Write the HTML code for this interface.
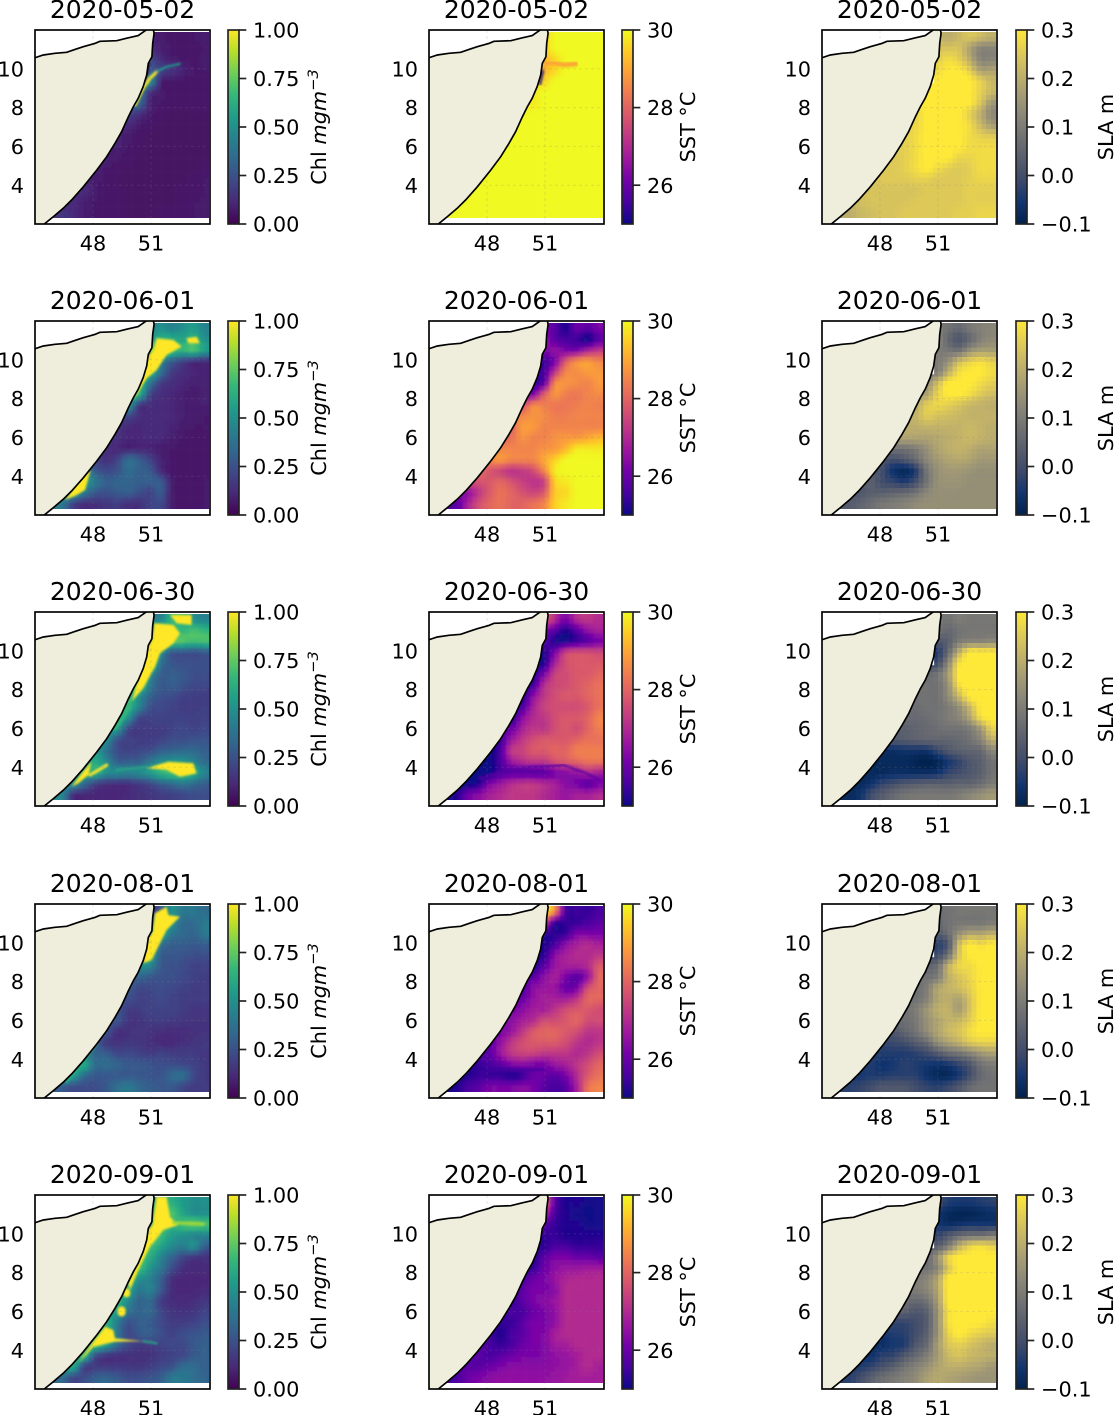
<!DOCTYPE html>
<html lang="en">
<head>
<meta charset="utf-8">
<title>Chl, SST and SLA panels</title>
<style>
html,body{margin:0;padding:0;background:#fff;width:1114px;height:1415px;overflow:hidden}
svg{display:block}
text{font-family:"DejaVu Sans","Liberation Sans",sans-serif;fill:#000}
</style>
</head>
<body>
<svg id="figure" xmlns="http://www.w3.org/2000/svg" width="1114" height="1415" viewBox="0 0 1114 1415">
<defs>
<clipPath id="heat-clip"><rect x="0" y="2" width="174" height="186"/></clipPath>
<clipPath id="axes-clip"><rect x="0" y="0" width="175" height="194"/></clipPath>
<filter id="soft" x="-5%" y="-5%" width="110%" height="110%"><feGaussianBlur stdDeviation="1.4"/></filter>
<filter id="edge" x="-5%" y="-5%" width="110%" height="110%"><feGaussianBlur stdDeviation="1.1"/></filter>
</defs>
</svg>
<script>
const dates = ['2020-05-02','2020-06-01','2020-06-30','2020-08-01','2020-09-01'];
const lonTicks = [48,51];
const latTicks = [4,6,8,10];
const chlTickValues = [0,25,50,75,100];
const chlTickLabels = ['0.00','0.25','0.50','0.75','1.00'];
const sstTickValues = [260,280,300];
const sstTickLabels = ['26','28','30'];
const slaTickValues = [-10,0,10,20,30];
const slaTickLabels = ['\u22120.1','0.0','0.1','0.2','0.3'];

const coastNorthLon = [45,45.43,46.03,46.64,47.07,47.5,48.1,48.36,49.23,49.83,50.34,50.69,50.81];
const coastNorthLat = [10.57,10.71,10.8,10.85,11,11.14,11.31,11.42,11.45,11.6,11.71,11.96,12.04];
const coastEastLon = [51.12,51.16,51.09,51.05,50.86,50.78,50.6,50.34,50.09,49.83,49.48,49.14,48.71,48.19,47.5,46.9,46.46,45.95,45.48];
const coastEastLat = [12.04,11.83,11.31,10.62,10.28,9.68,9.08,8.48,8.05,7.53,6.76,6.16,5.47,4.78,3.92,3.24,2.81,2.38,2.0];

/* Rows run north to south; each row is right-aligned to the eastern edge (land cells omitted). Chl x100, SST x10, SLA x100 */
const chl0502 = [
[10,8,6,6,7,8],[12,9,7,6,6,7],[22,12,8,7,6,8],[30,20,15,10,7,7],[50,10,7,6,6,6],
[40,15,8,6,6,6,6],[35,10,7,6,6,6,6],[20,14,8,6,5,5,5,5],[12,8,6,5,5,5,5,5],
[10,8,6,5,5,5,5,5,5],[9,7,6,5,5,5,5,5,5],[9,7,6,5,5,5,5,5,5,5],[9,7,6,5,5,5,5,5,5,5,6],
[10,8,6,5,5,5,5,5,5,5,6,7],[12,8,6,6,5,5,5,5,5,6,6,7],[12,9,7,6,6,5,5,5,5,5,6,7,7],
[15,12,9,7,6,6,5,5,5,6,6,6,7,7]];
const chl0601 = [
[45,50,45,50,55,45],[55,65,62,58,65,50],[85,85,70,65,70,55],[70,45,30,20,14,13],[65,38,18,14,11,10],
[65,40,18,14,11,9,9],[65,22,14,11,9,8,9],[55,18,14,12,11,9,8,9],[22,14,12,12,11,9,8,7],
[15,12,11,12,12,10,8,7,7],[14,11,11,12,11,9,7,6,6],[14,11,10,11,10,8,7,6,6,6],[20,14,20,35,30,20,10,7,6,6,6],
[45,28,22,25,35,30,28,12,7,6,6,6],[55,40,30,32,32,30,30,28,8,6,6,7],[55,40,28,25,28,30,25,20,28,8,6,6,7],
[40,20,14,14,16,18,14,14,20,22,8,6,6,7]];
const chl0630 = [
[45,45,65,65,50,45],[60,80,70,65,70,65],[85,85,75,72,68,70],[85,50,28,27,25,28],[80,38,27,25,25,25],
[80,50,30,30,28,24,24],[75,42,28,30,26,22,22],[70,50,32,25,24,20,19,18],[65,45,25,22,20,18,18,19],
[65,50,22,20,20,20,20,19,20],[55,22,18,18,18,20,22,20,22],[50,25,20,18,18,20,24,24,26,26],[55,38,24,20,22,24,30,32,34,34,30],
[55,60,48,30,30,30,40,48,52,52,45,35],[55,65,50,48,45,48,55,65,70,70,62,45],[50,35,20,15,14,14,18,22,30,35,40,35,30],
[45,14,12,11,11,11,12,14,16,18,20,22,24,24]];
const chl0801 = [
[15,30,50,40,40,35],[50,65,50,35,35,40],[60,60,40,35,32,40],[60,38,30,30,28,30],[60,30,28,26,24,24],
[50,45,28,25,24,20,20],[32,28,25,25,22,20,18],[28,22,22,24,22,20,18,18],[24,20,20,22,20,18,18,18],
[26,18,18,20,20,20,18,16,16],[26,16,15,18,18,17,16,15,15],[26,14,14,16,15,13,13,13,14,15],[28,17,15,16,16,14,12,12,14,15,17],
[40,32,30,22,22,20,18,20,18,18,18,16],[60,35,35,32,28,28,26,24,24,22,20,17],[55,35,28,28,28,28,28,26,26,34,36,22,17],
[30,24,24,24,28,36,40,34,30,28,28,22,18,18]];
const chl0901 = [
[60,70,62,55,50,50],[70,75,72,58,50,50],[70,75,65,70,75,70],[80,68,55,50,45,45],[70,58,48,42,50,30],
[70,62,45,32,22,16,15],[70,52,40,24,14,12,12],[65,50,44,30,14,11,11,11],[60,40,44,28,13,11,11,12],
[65,48,32,34,18,13,12,13,16],[55,38,32,34,22,16,15,16,20],[65,42,25,30,28,22,18,18,20,24],[70,60,40,22,28,30,24,20,24,26,28],
[70,70,55,35,22,18,18,20,22,22,28,30],[65,25,16,14,14,14,15,18,20,22,28,30],[60,20,18,17,17,16,16,18,22,25,35,35,30],
[35,22,24,30,32,28,24,24,26,30,40,40,36,32]];

const sst0502 = [
[295,300,300,300,300,300],[295,300,300,300,300,300],[292,296,300,300,300,300],[292,296,300,300,300,300],[296,300,300,300,300,300],
[298,300,300,300,300,300,300],[298,300,300,300,300,300,300],[300,300,300,300,300,300,300,300],[300,300,300,300,300,300,300,300],
[300,300,300,300,300,300,300,300,300],[300,300,300,300,300,300,300,300,300],[300,300,300,300,300,300,300,300,300,300],[300,300,300,300,300,300,300,300,300,300,300],
[300,300,300,300,300,300,300,300,300,300,300,300],[300,300,300,300,300,300,300,300,300,300,300,300],[300,300,300,300,300,300,300,300,300,300,300,300,300],
[300,300,300,300,300,300,300,300,300,300,300,300,300,300]];
const sst0601 = [
[262,258,252,260,258,262],[265,258,256,255,251,258],[262,265,262,262,268,272],[255,262,278,286,288,285],[256,272,285,286,288,288],
[255,258,285,287,286,285,288],[262,278,287,284,283,285,286],[275,285,284,283,283,284,285,284],[285,287,286,284,284,285,285,285],
[280,288,288,285,285,285,285,285,285],[282,287,285,285,287,288,288,290,292],[285,285,285,285,287,288,292,298,298,298],[285,288,285,285,285,290,295,300,300,300,300],
[282,278,275,272,273,276,285,298,300,300,300,300],[277,278,280,277,274,272,274,295,298,300,300,300],[265,272,278,282,280,277,275,278,294,296,300,300,300],
[258,268,276,280,282,280,280,282,285,295,298,300,300,300]];
const sst0630 = [
[280,270,262,270,272,270],[262,258,252,258,265,268],[258,252,252,255,258,262],[252,262,274,276,276,275],[252,268,276,278,278,278],
[252,262,274,276,278,278,280],[255,270,275,276,278,280,282],[252,264,272,276,278,278,280,282],[256,268,274,276,276,276,278,282],
[252,264,270,272,276,278,278,280,285],[260,268,272,272,276,278,276,280,284],[255,266,272,276,278,278,278,280,282,282],[250,256,272,274,278,278,280,280,284,284,284],
[250,250,256,266,270,272,272,276,278,280,282,282],[250,250,256,258,258,258,258,262,264,266,270,268],[250,252,262,266,270,272,272,270,268,264,262,258,262],
[252,260,264,268,270,272,272,272,270,268,266,268,268,270]];
const sst0801 = [
[300,285,256,255,254,256],[275,255,254,254,256,258],[254,253,254,262,262,262],[252,256,264,268,270,268],[253,264,268,270,270,272],
[252,258,266,268,268,270,278],[258,264,268,262,258,265,280],[256,264,266,266,260,262,276,280],[260,265,268,268,268,272,280,280],
[262,264,268,268,272,276,278,278,276],[264,268,270,276,276,278,280,276,276],[262,266,272,278,280,280,278,276,272,272],[258,265,272,276,278,278,278,276,272,270,272],
[258,258,266,272,274,274,272,272,272,270,272,276],[254,256,258,262,264,262,262,266,268,272,276,280],[252,254,254,254,252,254,260,260,258,262,270,278,282],
[252,256,258,262,262,262,264,262,258,256,258,268,282,285]];
const sst0901 = [
[282,258,252,252,251,251],[270,256,252,251,250,251],[258,254,252,252,251,251],[254,254,252,252,252,252],[253,256,256,254,254,254],
[252,258,262,262,260,260,258],[254,260,264,266,266,267,267],[256,260,262,266,269,270,270,270],[258,262,262,264,270,270,270,270],
[254,258,262,264,266,270,270,270,270],[256,256,260,262,265,270,270,270,270],[254,254,258,262,262,265,270,270,270,270],[255,252,256,258,262,263,268,270,270,270,270],
[258,256,254,256,260,262,263,267,268,270,270,270],[258,256,258,260,262,262,263,265,266,268,270,270],[258,258,260,262,264,264,264,264,265,266,268,270,268],
[256,260,262,264,265,265,265,265,265,266,267,268,268,268]];

const sla0502 = [
[22,20,22,24,22,20],[24,24,24,18,12,12],[26,28,26,20,12,12],[28,30,30,26,18,18],[30,30,30,30,26,22],
[30,30,30,30,30,26,22],[30,30,30,30,30,24,16],[27,30,30,30,30,26,20,13],[27,30,30,30,30,28,22,17],
[26,28,30,30,30,30,28,26,25],[26,28,30,30,30,30,28,28,28],[25,26,28,30,30,30,27,27,28,28],[25,25,26,28,30,28,26,25,26,28,28],
[24,25,25,25,26,26,25,25,25,26,27,27],[24,24,24,24,24,25,25,25,25,26,26,26],[23,24,24,24,24,25,25,25,25,25,26,26,26],
[20,22,23,24,24,25,25,25,25,25,26,26,27,27]];
const sla0601 = [
[10,8,6,9,11,12],[12,6,2,6,11,13],[10,9,8,14,17,17],[10,14,22,26,28,26],[11,20,28,30,30,28],
[14,22,30,30,30,28,26],[18,26,30,30,28,25,23],[19,25,27,26,24,22,21,20],[21,25,24,23,22,21,21,21],
[20,20,21,21,21,21,22,21,20],[18,18,18,19,20,21,22,21,20],[8,8,10,14,18,20,21,20,18,18],[2,0,2,6,12,16,18,19,18,16,16],
[3,0,-6,-8,-4,8,14,16,16,15,14,14],[4,0,-2,-4,0,8,14,15,15,14,14,14],[2,4,4,5,6,8,12,14,14,14,14,14,14],
[3,5,7,9,10,11,13,14,14,14,14,14,14,14]];
const sla0630 = [
[10,8,10,9,9,9],[8,6,8,9,9,9],[2,4,10,12,12,13],[-4,6,20,30,30,30],[0,12,28,30,30,30],
[6,8,16,30,30,30,30],[8,8,14,28,30,30,30],[8,8,8,13,22,30,30,30],[7,8,8,10,14,22,30,30],
[7,6,7,8,10,12,18,28,30],[4,5,6,7,8,8,10,16,26],[2,3,4,5,5,5,6,8,12,20],[-7,-7,-6,-6,-6,-2,2,4,5,6,12],
[-8,-8,-8,-8,-9,-10,-9,-5,-2,2,4,8],[-8,-8,-7,-7,-7,-7,-6,-2,0,2,4,8],[-8,-6,-2,0,2,3,4,4,4,5,5,7,10],
[-8,-6,0,3,6,8,9,9,9,9,10,12,14,16]];
const sla0801 = [
[7,8,9,9,9,9],[6,8,9,9,9,10],[3,7,14,18,18,20],[-3,2,22,30,28,30],[0,8,24,30,30,30],
[5,7,20,27,28,30,30],[8,10,20,24,27,30,30],[7,10,18,21,23,26,30,30],[8,11,18,20,18,24,30,30],
[8,10,15,20,21,17,24,30,30],[7,9,14,18,21,22,26,30,30],[2,5,8,13,18,22,24,28,30,30],[-2,-1,0,3,6,13,17,20,24,26,26],
[-3,-4,-4,-4,-3,-1,2,6,8,11,15,17],[-4,-6,-5,-3,-4,-5,-6,-5,-2,2,8,10],[-5,-4,-4,-3,-3,-3,-6,-8,-8,-5,0,6,8],
[-3,-2,0,2,2,2,0,-2,-3,-1,2,6,8,8]];
const sla0901 = [
[0,-4,-5,-5,-4,-3],[-6,-8,-9,-9,-8,-7],[-5,-7,-6,-5,-5,-5],[-2,2,6,8,8,10],[4,10,20,26,28,26],
[6,14,26,30,30,30,30],[8,12,24,30,30,30,30],[10,12,18,30,30,30,30,30],[10,12,18,30,30,30,30,30],
[8,6,8,16,30,30,30,30,30],[4,2,4,14,28,30,30,30,30],[-2,-2,0,3,14,28,30,30,30,28],[-5,-4,-3,0,4,14,26,30,28,26,25],
[-7,-7,-5,-4,2,6,16,24,26,24,22,20],[-6,-3,-2,2,6,10,16,22,24,22,21,20],[-4,-2,1,4,8,11,14,18,20,20,19,18,16],
[-3,0,4,7,9,11,13,17,19,18,17,16,15,15]];

/* Sharp features: [value, stroke width, lons, lats, filled patch?] */
const coastStrip = [0,2,[50.9,50.82,50.72],[10.3,9.8,9.2]];
const chlFronts0502 = [coastStrip,
  [100,3,[50.17,50.6,50.95,51.3],[8.13,9,9.51,9.85]],
  [55,2,[51.3,51.81,52.5],[9.85,10.11,10.25]]];
const chlFronts0601 = [coastStrip,
  [100,0,[51.16,51.29,52.16,52.59,51.81,51.29,50.78,50.09,50.43,50.86],[10.51,11.11,11.02,10.68,10.25,9.47,9.04,7.93,8.96,10.16],true],
  [100,0,[52.84,53.36,53.53,52.93],[11.11,11.19,10.85,10.85],true],
  [100,0,[46.55,47.16,47.59,47.88,47.5],[2.77,3.03,3.29,4.32,4.06],true]];
const chlFronts0630 = [coastStrip,
  [100,0,[51.16,52.16,52.5,52.16,51.47,51.21,50.6,50,50.43,50.86,51.09],[11.42,11.33,10.9,10.38,9.87,9.18,8.07,7.38,8.84,10.21,10.56],true],
  [100,0,[51.98,53.1,53.1,52.33],[11.85,11.85,11.33,11.42],true],
  [100,0,[50.78,51.47,51.9,53.19,53.36,52.5,51.81],[3.94,4.16,4.28,4.2,3.68,3.51,3.86],true],
  [100,0,[46.9,47.41,47.93,47.76,47.24],[3,3.68,4.28,3.6,3.17],true],
  [65,6,[49.83,49.14],[7.12,6.09]],
  [100,3,[47.85,48.71],[3.6,4.11]],
  [60,2,[49.22,50.78],[3.86,4]]];
const chlFronts0801 = [[0,3,[50.9,50.82,50.6],[10.3,9.8,9.1]],
  [100,0,[51.21,51.81,51.9,52.5,51.81,51.29,51.03,50.6,50.86,51.09],[11.52,11.86,11.43,11.35,10.66,9.63,9.11,8.94,10.23,10.57],true],
  [60,3,[46.64,48.19],[2.84,4.82]]];
const chlFronts0901 = [coastStrip,
  [100,0,[51.29,51.81,51.98,52.4,51.64,50.95,50.43,49.91,49.83,50.6,50.86,51.09],[11.91,11.91,10.88,10.45,10.2,9.34,8.31,7.1,7.45,9.16,10.2,10.45],true],
  [100,0,[47.24,47.84,48.62,49.05,49.14,50.6,49.14,48.02],[3.32,4.18,5.21,5.04,4.61,4.47,4.44,4.18],true],
  [85,3,[52.16,53.71],[10.57,10.5]],
  [100,7,[49.74,49.74],[7,6.9]],
  [100,8,[49.48,49.48],[6.05,5.95]],
  [60,2,[50.6,51.29],[4.47,4.35]]];
const sstFronts0502 = [[290,5,[51.05,51.5,52,52.6],[10.3,10.3,10.2,10.25]],[250,2,[50.9,50.75],[9.9,9.2]]];
const sstFronts0630 = [[258,2,[47.6,48.95,50.33,51.09,51.95,53.15,53.84],[3.4,3.83,4,4.03,4.11,3.68,3.34]]];
const sstFronts0801 = [[255,2,[47.64,48.67,50.05,50.91],[3.27,3.53,3.44,3.48]]];

const viridisStops = ['#440154','#482878','#3e4989','#31688e','#26828e','#1f9e89','#35b779','#6ece58','#b5de2b','#fde725'];
const plasmaStops = ['#0d0887','#46039f','#7201a8','#9c179e','#bd3786','#d8576b','#ed7953','#fb9f3a','#fdca26','#f0f921'];
const cividisStops = ['#00224e','#123570','#3b496c','#575d6d','#707173','#8a8678','#a59c74','#c3b369','#e1cc55','#fee838'];

const rowTops = [30,321,612,904,1195];
const NS = 'http://www.w3.org/2000/svg';
const svg = document.getElementById('figure');
const tickFont = 20.83, titleFont = 25, lineW = 1.67;

function mk(tag, attrs, parent, txt) {
  const el = document.createElementNS(NS, tag);
  for (const k in attrs) el.setAttribute(k, attrs[k]);
  if (txt !== undefined) el.textContent = txt;
  parent.appendChild(el);
  return el;
}
function xScale(lon) { return (lon - 45) * 19.33; }
function yScale(lat) { return (12 - lat) * 19.4; }
function hexToRgb(h) { return [1,3,5].map(i => parseInt(h.substr(i,2),16)); }
function colorAt(stops, t) {
  t = Math.max(0, Math.min(1, t));
  const p = t * (stops.length - 1), i = Math.min(stops.length - 2, Math.floor(p)), f = p - i;
  const a = hexToRgb(stops[i]), b = hexToRgb(stops[i+1]);
  return 'rgb(' + a.map((v,k) => Math.round(v + (b[k]-v)*f)).join(',') + ')';
}
function cellValue(rows, r, c) {
  const row = rows[Math.max(0, Math.min(rows.length - 1, r))];
  const start = 16 - row.length;
  return row[Math.max(start, Math.min(15, c)) - start];
}
function cubic(a, b, c, d, t) {
  return b + 0.5*t*(c-a + t*(2*a-5*b+4*c-d + t*(3*(b-c)+d-a)));
}
function smoothValue(rows, u, v) {
  const c0 = Math.floor(u), r0 = Math.floor(v), tu = u - c0, tv = v - r0, col = [];
  for (let r = -1; r <= 2; r++) {
    col.push(cubic(cellValue(rows,r0+r,c0-1), cellValue(rows,r0+r,c0), cellValue(rows,r0+r,c0+1), cellValue(rows,r0+r,c0+2), tu));
  }
  return cubic(col[0], col[1], col[2], col[3], tv);
}

const columns = [
  {key:'chl', x:35, cbx:228, lo:0, hi:100, stops:viridisStops, soft:true,
   series:[chl0502,chl0601,chl0630,chl0801,chl0901],
   fronts:[chlFronts0502,chlFronts0601,chlFronts0630,chlFronts0801,chlFronts0901],
   tickValues:chlTickValues, tickLabels:chlTickLabels},
  {key:'sst', x:429, cbx:622, lo:250, hi:300, stops:plasmaStops, soft:true,
   series:[sst0502,sst0601,sst0630,sst0801,sst0901],
   fronts:[sstFronts0502,[],sstFronts0630,sstFronts0801,[]],
   tickValues:sstTickValues, tickLabels:sstTickLabels},
  {key:'sla', x:822, cbx:1016, lo:-10, hi:30, stops:cividisStops, soft:false,
   series:[sla0502,sla0601,sla0630,sla0801,sla0901],
   fronts:[[],[],[],[],[]],
   tickValues:slaTickValues, tickLabels:slaTickLabels}
];

const defs = svg.querySelector('defs');
columns.forEach(col => {
  const grad = mk('linearGradient', {id:'grad-'+col.key, x1:0, y1:1, x2:0, y2:0}, defs);
  col.stops.forEach((s,i) => mk('stop', {offset:i/(col.stops.length-1), 'stop-color':s}, grad));
});

const cellW = 175/16, cellH = 186/17, fineW = 4.83, fineH = 4.85;

rowTops.forEach((top, rowIdx) => {
  columns.forEach(col => {
    const panel = mk('g', {transform:'translate('+col.x+','+top+')'}, svg);
    
    

    const clip = mk('g', {'clip-path':'url(#heat-clip)'}, panel);
    
    
    const cells = mk('g', col.soft ? {filter:'url(#soft)'} : {'shape-rendering':'crispEdges'}, clip);
    const rows = col.series[rowIdx];
    const t = v => (v - col.lo) / (col.hi - col.lo);

    for (let j = -2; j < 41; j++) {
      for (let i = -2; i < 39; i++) {
        const x = i*fineW, y = 2 + j*fineH;
        const u = (x + fineW/2)/cellW - 0.5, v = (y + fineH/2 - 2)/cellH - 0.5;
        const rr = Math.max(0, Math.min(rows.length-1, Math.round(v)));
        if (u < 16 - rows[rr].length - 1.6) continue;
        const cell = mk('rect', {x:x.toFixed(2), y:y.toFixed(2), width:fineW+0.3, height:fineH+0.3, fill:colorAt(col.stops, t(smoothValue(rows,u,v)))}, cells);
        
        
      }
    }
    const features = mk('g', {filter:'url(#edge)'}, clip);
    col.fronts[rowIdx].forEach(f => {
      const pts = f[2].map((lon,k) => xScale(lon).toFixed(1)+','+yScale(f[3][k]).toFixed(1)).join(' ');
      const shape = f[4]
        ? mk('polygon', {points:pts, fill:colorAt(col.stops, t(f[0]))}, features)
        : mk('polyline', {points:pts, fill:'none', stroke:colorAt(col.stops, t(f[0])), 'stroke-width':f[1], 'stroke-linecap':'round', 'stroke-linejoin':'round'}, features);
      
      
    });

    const northPts = coastNorthLon.map((lon,k) => xScale(lon).toFixed(1)+','+yScale(coastNorthLat[k]).toFixed(1));
    const eastPts = coastEastLon.map((lon,k) => xScale(lon).toFixed(1)+','+yScale(coastEastLat[k]).toFixed(1));

    const gulf = mk('polygon', {points:'0,0 '+northPts.join(' ')+' '+xScale(coastEastLon[0]).toFixed(1)+',0', fill:'#fff'}, panel);
    
    

    if (col.key === 'sla') {
      const gap = mk('rect', {x:110.3, y:45.7, width:1.8, height:7.5, fill:'#fff'}, panel);
      
      
    }

    lonTicks.forEach(l => {
      const g = mk('line', {x1:xScale(l), x2:xScale(l), y1:0, y2:194, stroke:'rgba(128,128,128,0.2)', 'stroke-width':1, 'stroke-dasharray':'3 3'}, panel);
      
      
    });
    latTicks.forEach(l => {
      const g = mk('line', {x1:0, x2:175, y1:yScale(l), y2:yScale(l), stroke:'rgba(128,128,128,0.2)', 'stroke-width':1, 'stroke-dasharray':'3 3'}, panel);
      
      
    });

    const landClip = mk('g', {'clip-path':'url(#axes-clip)'}, panel);
    const land = mk('polygon', {points:northPts.concat(eastPts).concat(['0,194']).join(' '), fill:'#efeedc'}, landClip);
    
    
    const coast = mk('polyline', {points:northPts.join(' ')+' '+eastPts.join(' '), fill:'none', stroke:'#000', 'stroke-width':lineW}, landClip);
    
    

    const spine = mk('rect', {x:0, y:0, width:175, height:194, fill:'none', stroke:'#000', 'stroke-width':lineW}, panel);
    
    

    const title = mk('text', {x:87.5, y:-12, 'text-anchor':'middle', 'font-size':titleFont}, panel, dates[rowIdx]);
    
    

    lonTicks.forEach(l => {
      const lab = mk('text', {x:xScale(l), y:220.5, 'text-anchor':'middle', 'font-size':tickFont}, panel, String(l));
      
      
    });
    latTicks.forEach(l => {
      const lab = mk('text', {x:-11, y:yScale(l)+7.6, 'text-anchor':'end', 'font-size':tickFont}, panel, String(l));
      
      
    });

    const cb = mk('g', {transform:'translate('+col.cbx+','+top+')'}, svg);
    
    
    mk('rect', {x:0, y:0, width:11, height:194, fill:'url(#grad-'+col.key+')', stroke:'#222', 'stroke-width':lineW}, cb);
    col.tickValues.forEach((v,k) => {
      const y = 194 * (1 - t(v));
      const tick = mk('line', {x1:11, x2:18.3, y1:y, y2:y, stroke:'#222', 'stroke-width':lineW}, cb);
      
      
      const lab = mk('text', {x:25, y:y+7.6, 'font-size':tickFont}, cb, col.tickLabels[k]);
      
      
    });

    let label;
    if (col.key === 'chl') {
      label = mk('text', {transform:'translate(98,97) rotate(-90)', 'text-anchor':'middle', 'font-size':tickFont}, cb, 'Chl ');
      mk('tspan', {'font-style':'italic'}, label, 'mgm');
      mk('tspan', {'font-size':14.6, dy:-8, 'font-style':'italic'}, label, '\u22123');
    } else if (col.key === 'sst') {
      label = mk('text', {transform:'translate(73,97) rotate(-90)', 'text-anchor':'middle', 'font-size':tickFont}, cb, 'SST \u00b0C');
    } else {
      label = mk('text', {transform:'translate(97,97) rotate(-90)', 'text-anchor':'middle', 'font-size':tickFont}, cb, 'SLA m');
    }
    
    
  });
});
</script>
</body>
</html>
